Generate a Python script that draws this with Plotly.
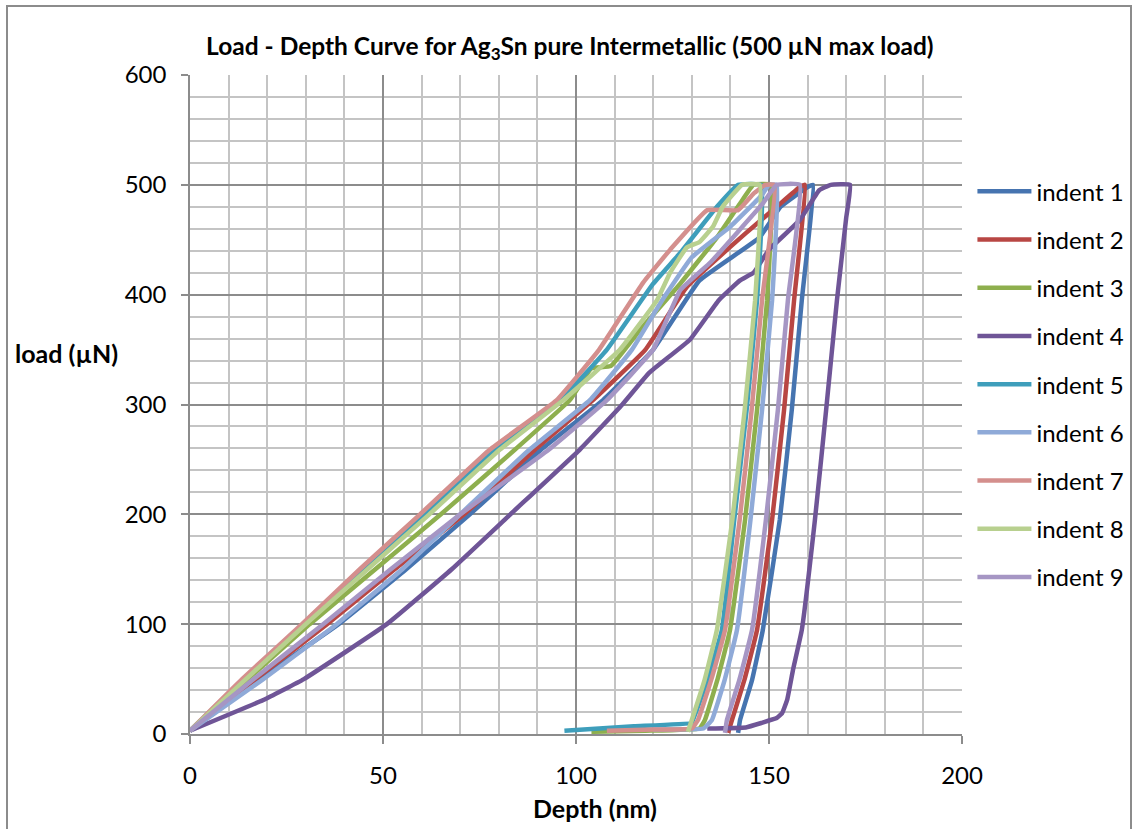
import plotly.graph_objects as go

# ---- data (depth nm, load uN) ----
names = ["indent 1", "indent 2", "indent 3", "indent 4", "indent 5",
         "indent 6", "indent 7", "indent 8", "indent 9"]
colors = ["#4674B0", "#B84643", "#8EAF4E", "#6F5597", "#3E9EBB",
          "#8FAAD8", "#D48F8D", "#B8D08F", "#A696C4"]

depth_1 = [0, 18, 38.5, 56, 72.5, 91, 107, 120, 132, 147.5, 153, 160, 161.4,
           158.5, 155.9, 152.8, 148.4, 145.6, 142.5, 142]
load_1 = [3, 50, 100, 150, 200, 259, 304, 350, 413, 452, 480, 498, 500,
          395, 295, 195, 94.7, 49, 12.7, 1]

depth_2 = [0, 17, 35.5, 53, 71, 89.4, 104.4, 118, 128.7, 144, 152, 158, 159.3,
           156.5, 153.9, 150.8, 146.9, 143.6, 140.4, 139.4]
load_2 = [3, 50, 100, 150, 200, 259, 304, 350, 407, 456, 480, 498, 500,
          395, 295, 195, 94.7, 49, 12.7, 1]

depth_3 = [0, 15, 31, 48, 65, 84.2, 98.4, 104, 109, 116.6, 127, 136.5, 142.5, 146, 150.5,
           149.5, 146.9, 143.8, 139.9, 136.6, 133.4, 132, 118, 104]
load_3 = [3, 50, 100, 150, 200, 259, 304, 333, 335, 368, 410, 452, 483, 500, 500,
          395, 295, 195, 94.7, 49, 12.7, 5, 3, 2]

depth_4 = [0, 19, 29.5, 51, 67.8, 83, 101, 112, 119, 129.5, 137, 142.5, 146, 150, 158, 163, 166, 171,
           170, 167.6, 164.8, 161.9, 158.5, 156.2, 154.7, 153.4, 152, 148, 144, 134]
load_4 = [3, 31, 50, 100, 150, 200, 259, 300, 329, 359, 395, 413, 420, 441, 468, 495, 500, 500,
          470, 395, 295, 195, 94.7, 58, 31, 19, 14.5, 10, 6, 5]

depth_5 = [0, 14, 29.5, 45, 61, 79, 96, 108, 120, 127, 136.5, 142, 148,
           146.9, 144.2, 141, 137.8, 134, 130.3, 130, 115, 97]
load_5 = [3, 50, 100, 150, 200, 259, 304, 350, 410, 438, 480, 500, 500,
          395, 295, 195, 94.7, 49, 12.7, 10, 7, 3]

depth_6 = [0, 19, 38, 55, 70, 88, 103.6, 114.5, 121.8, 130, 140, 148, 150, 152,
           150.8, 148.2, 145.2, 141.7, 138.5, 135.2, 133, 120]
load_6 = [3, 50, 100, 150, 200, 259, 304, 350, 392, 434, 462, 490, 500, 500,
          395, 295, 195, 94.7, 49, 12.7, 5, 4]

depth_7 = [0, 13.5, 29, 44, 59.6, 77.7, 95, 106, 117.4, 124.4, 134, 142, 146, 149, 151.5,
           148.2, 145.5, 142.4, 138.6, 135, 131.6, 130, 120, 108]
load_7 = [3, 50, 100, 150, 200, 259, 304, 350, 411, 441, 477, 477, 492, 500, 500,
          395, 295, 195, 94.7, 49, 12.7, 5, 4, 3]

depth_8 = [0, 14.5, 30, 46, 62, 80.3, 96.7, 111.4, 121, 124.4, 128.7, 132, 135.5, 138, 143, 147.6,
           146.4, 143.7, 140.5, 136.5, 133.3, 130, 129]
load_8 = [3, 50, 100, 150, 200, 259, 304, 350, 395, 420, 443, 448, 462, 480, 500, 500,
          395, 295, 195, 94.7, 49, 12.7, 2]

depth_9 = [0, 16.5, 34.5, 52, 70, 93, 108, 120, 127, 135, 148.4, 152, 158,
           154.9, 152.3, 149.2, 145.6, 142.3, 139.1, 138.6]
load_9 = [3, 50, 100, 150, 200, 259, 304, 350, 404, 430, 483, 500, 500,
          395, 295, 195, 94.7, 49, 12.7, 1]

depths = [depth_1, depth_2, depth_3, depth_4, depth_5, depth_6, depth_7, depth_8, depth_9]
loads = [load_1, load_2, load_3, load_4, load_5, load_6, load_7, load_8, load_9]

FONT = "Lato"

fig = go.Figure()
for i in range(9):
    fig.add_trace(go.Scatter(
        x=depths[i], y=loads[i], mode="lines", name=names[i],
        legendgroup=names[i],
        line=dict(color=colors[i], width=4.5, shape="spline", smoothing=0.3),
    ))

fig.update_layout(
    width=1133, height=829,
    margin=dict(l=190, r=171, t=75, b=95, autoexpand=False),
    paper_bgcolor="white", plot_bgcolor="white",
    font=dict(family=FONT, size=24, color="black"),
    title=dict(text="<b>Load - Depth Curve for Ag<sub>3</sub>Sn pure Intermetallic (500 µN max load)</b>",
               x=0.492, xref="paper", xanchor="center", y=1 - 46 / 829, yanchor="middle",
               font=dict(family=FONT, size=24.5)),
    showlegend=True,
    legend=dict(x=1.0135, y=0.857, xanchor="left", yanchor="top",
                font=dict(family=FONT, size=24), tracegroupgap=14,
                itemwidth=54, bgcolor="rgba(0,0,0,0)"),
)

fig.update_xaxes(range=[0, 200], dtick=50, tick0=0,
                 showgrid=True, gridcolor="#8C8C8C", gridwidth=1.5,
                 minor=dict(dtick=10, showgrid=True, gridcolor="#C4C4C4", gridwidth=1.5),
                 showline=True, linecolor="#8C8C8C", linewidth=1.5,
                 ticks="outside", ticklen=8, tickcolor="#8C8C8C", tickwidth=1.5,
                 ticklabelstandoff=11, zeroline=False,
                 tickfont=dict(family=FONT, size=24))
fig.update_yaxes(range=[0, 600], dtick=100, tick0=0,
                 showgrid=True, gridcolor="#8C8C8C", gridwidth=1.5,
                 minor=dict(dtick=20, showgrid=True, gridcolor="#C4C4C4", gridwidth=1.5),
                 showline=True, linecolor="#8C8C8C", linewidth=1.5,
                 ticks="outside", ticklen=7, tickcolor="#8C8C8C", tickwidth=1.5,
                 ticklabelstandoff=10, zeroline=False,
                 tickfont=dict(family=FONT, size=24))

fig.add_annotation(text="<b>load (µN)</b>", xref="paper", yref="paper",
                   x=(66 - 190) / 772, y=(734 - 353) / 659, showarrow=False,
                   xanchor="center", yanchor="middle", font=dict(family=FONT, size=25))
fig.add_annotation(text="<b>Depth (nm)</b>", xref="paper", yref="paper",
                   x=(595 - 190) / 772, y=(734 - 808) / 659, showarrow=False,
                   xanchor="center", yanchor="middle", font=dict(family=FONT, size=25))

# outer chart border
fig.add_shape(type="rect", xref="paper", yref="paper",
              x0=(7 - 190) / 772, x1=(1131 - 190) / 772,
              y0=(734 - 840) / 659, y1=(734 - 6) / 659,
              line=dict(color="#8C8C8C", width=2), layer="below")

fig.write_html("out.html", config={"displayModeBar": False},
               post_script="document.body.style.margin='0px';")
